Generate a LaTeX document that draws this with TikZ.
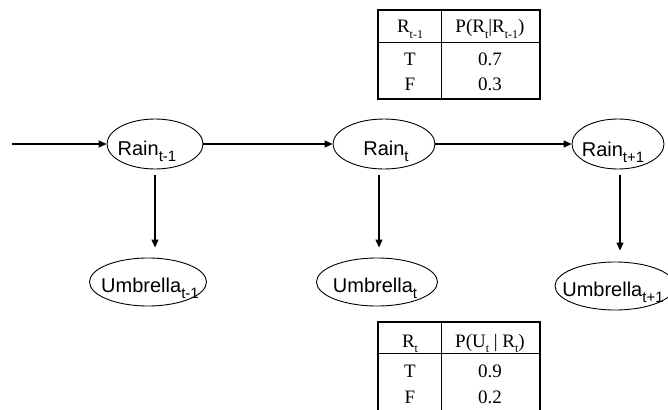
\documentclass[tikz,border=0pt]{standalone}
\usepackage{fontspec}
\setmainfont{Liberation Serif}
\newfontfamily\arialf{Liberation Sans}
\usetikzlibrary{arrows.meta,shapes.geometric,calc}
\newcommand{\asub}[1]{\raisebox{-0.3em}{\fontsize{15}{15}\selectfont #1}}
\newcommand{\tsub}[1]{\raisebox{-0.3em}{\fontsize{12}{12}\selectfont #1}}
\tikzset{
  varell/.style={ellipse, draw=black, line width=0.9pt, inner sep=0pt},
  vartxt/.style={anchor=base, inner sep=0pt, font=\arialf\fontsize{20}{20}\selectfont},
  arr/.style={line width=1.2pt, -{Triangle[length=8pt,width=7pt]}},
  tabborder/.style={line width=2.7pt},
  tabline/.style={line width=0.9pt},
  tabtxt/.style={anchor=base, inner sep=0pt, font=\fontsize{19}{19}\selectfont}
}
\begin{document}
\begin{tikzpicture}[x=1pt,y=-1pt]
\useasboundingbox (0,0) rectangle (668,409);
% Rain nodes
\node[varell, minimum width=96pt, minimum height=50pt] (r0) at (155,144) {};
\node[varell, minimum width=102pt, minimum height=50pt] (r1) at (384,144) {};
\node[varell, minimum width=92pt, minimum height=50pt] (r2) at (618,144) {};
\node[vartxt] (r0t) at (147,155) {Rain\asub{t-1}};
\node[vartxt] (r1t) at (386,155) {Rain\asub{t}};
\node[vartxt] (r2t) at (613,156) {Rain\asub{t+1}};
% Umbrella nodes
\node[varell, minimum width=117pt, minimum height=48pt] (u0) at (148,282) {};
\node[varell, minimum width=121pt, minimum height=48pt] (u1) at (377,282) {};
\node[varell, minimum width=120pt, minimum height=48pt] (u2) at (615,286) {};
\node[vartxt] (u0t) at (150,292) {Umbrella\asub{t-1}};
\node[vartxt] (u1t) at (375,292) {Umbrella\asub{t}};
\node[vartxt] (u2t) at (613,296) {Umbrella\asub{t+1}};
% arrows
\coordinate (start) at (12,144);
\draw[arr] (start) -- (r0.west);
\draw[arr] (r0.east) -- (r1.west);
\draw[arr] (r1.east) -- (r2.west);
\draw[arr] ($(r0.south)+(0,6)$) -- ($(u0.north)+(7,-10)$);
\draw[arr] ($(r1.south)+(-5,6)$) -- ($(u1.north)+(2,-10)$);
\draw[arr] ($(r2.south)+(2,6)$) -- ($(u2.north)+(5,-11)$);
% top table
\draw[tabline] (378,42) -- (540,42);
\draw[tabline] (441,10) -- (441,99);
\draw[tabborder] (378,10) rectangle (540,99);
\node[tabtxt] (h1) at (410,33) {R\tsub{t-1}};
\node[tabtxt] (h2) at (490,33) {P(R\tsub{t}|R\tsub{t-1})};
\node[tabtxt] (a1) at (410,66) {T};
\node[tabtxt] (a2) at (490,66) {0.7};
\node[tabtxt] (b1) at (410,91) {F};
\node[tabtxt] (b2) at (490,91) {0.3};
% bottom table
\draw[tabline] (378,353) -- (540,353);
\draw[tabline] (441,322) -- (441,414);
\draw[tabborder] (378,322) rectangle (540,414);
\node[tabtxt] (g1) at (410,347) {R\tsub{t}};
\node[tabtxt] (g2) at (490,347) {P(U\tsub{t} | R\tsub{t})};
\node[tabtxt] (c1) at (410,377) {T};
\node[tabtxt] (c2) at (490,377) {0.9};
\node[tabtxt] (d1) at (410,403) {F};
\node[tabtxt] (d2) at (490,403) {0.2};
\end{tikzpicture}
\end{document}
